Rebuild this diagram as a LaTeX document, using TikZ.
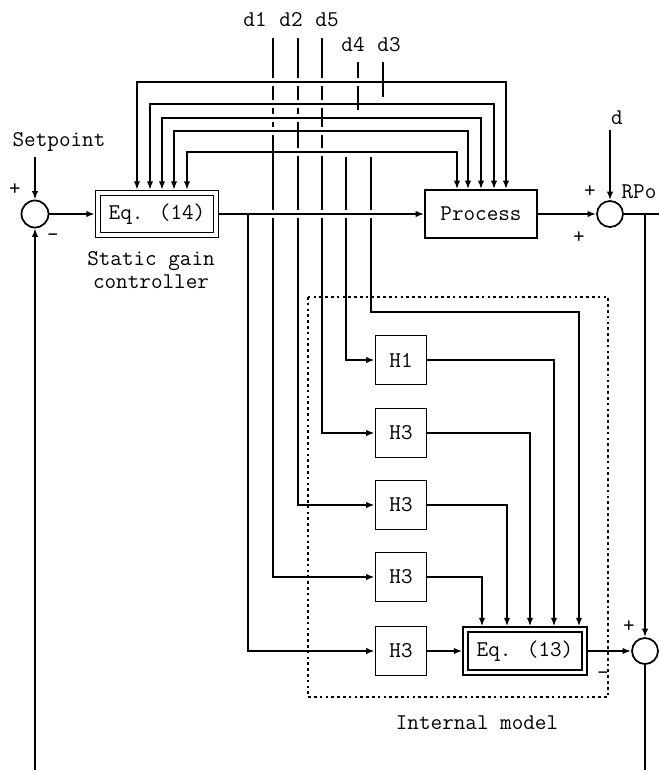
\documentclass[tikz,border=0pt]{standalone}
\usepackage{fontspec}
\usetikzlibrary{arrows.meta}

\begin{document}
\begin{tikzpicture}[x=0.2mm, y=-0.2mm, >={Latex[length=4.8pt,width=3.6pt]},
	line width=1pt, font=\ttfamily\fontsize{12.8}{12.6}\selectfont,
	block/.style={draw, minimum width=10.2mm, minimum height=9.8mm, inner sep=0pt},
	eqbox/.style={draw, double, double distance=2pt, line width=0.8pt, minimum width=23.6mm, minimum height=8.4mm, inner sep=0pt, outer sep=1.8pt},
	summer/.style={draw, circle, minimum size=5.4mm, inner sep=0pt},
	hop/.style={preaction={draw=white, line width=4.5pt, -}}]
	\useasboundingbox (0,0) rectangle (659,770);
	% internal model frame
	\draw[line width=0.7pt, dash pattern=on 1.5pt off 1.8pt] (308,297) rectangle (608,697);
	\node at (477,723) {Internal model};
	% blocks
	\node[summer] (s1) at (35,214) {};
	\node[eqbox] (ctrl) at (157,214) {Eq. (14)};
	\node[align=center] (sgc) at (151,270) {Static gain\\controller};
	\node[draw, minimum width=22.4mm, minimum height=9.6mm] (proc) at (481,214) {Process};
	\node[summer, minimum size=5.2mm] (s2) at (610,214) {};
	\node[block] (h1) at (401,360) {H1};
	\node[block] (h3a) at (401,433) {H3};
	\node[block] (h3b) at (401,505) {H3};
	\node[block] (h3c) at (401,577) {H3};
	\node[block] (h3d) at (401,651) {H3};
	\node[eqbox, minimum width=23.8mm, minimum height=8.6mm] (model) at (525,651) {Eq. (13)};
	\node[summer, minimum size=5.2mm] (s3) at (645,651) {};
	% disturbances
	\coordinate (d1) at (273,38);
	\coordinate (d2) at (298,38);
	\coordinate (d5) at (322,38);
	\coordinate (d4) at (358,62);
	\coordinate (d3) at (383,62);
	\node (ld1) at (255,20) {d1};
	\node (ld2) at (291,20) {d2};
	\node (ld5) at (327,20) {d5};
	\node (ld4) at (353,45) {d4};
	\node (ld3) at (389,45) {d3};
	\coordinate (d4b) at (346,157);
	\coordinate (d3b) at (371,157);
	\coordinate (c5) at (579,312);
	\draw[->] (d1) |- (h3c);
	\draw[->] (d2) |- (h3b);
	\draw[->] (d5) |- (h3a);
	\draw (d4) -- ++(0,48);
	\draw (d3) -- ++(0,35);
	\draw[->] (d4b) |- (h1);
	\draw[->] (d3b) |- (c5) -- (c5 |- model.north);
	% feedforward buses
	\coordinate (j3) at (383,82);
	\coordinate (j4) at (358,104);
	\coordinate (j5) at (322,118);
	\coordinate (j2) at (298,131);
	\coordinate (j1) at (273,152);
	\draw[<->, hop] ([xshift=-4mm]ctrl.north) |- (j3) -| ([xshift=5mm]proc.north);
	\draw[<->, hop] ([xshift=-1.4mm]ctrl.north) |- (j4) -| ([xshift=2.6mm]proc.north);
	\draw[<->, hop] ([xshift=1mm]ctrl.north) |- (j5) -| (proc.north);
	\draw[<->, hop] ([xshift=3.4mm]ctrl.north) |- (j2) -| ([xshift=-2.6mm]proc.north);
	\draw[<->, hop] ([xshift=6mm]ctrl.north) |- (j1) -| ([xshift=-4.8mm]proc.north);
	\draw[->, hop] (ctrl) -- (proc);
	\foreach \j in {j1,j2,j3,j4,j5}
		\draw (\j) ++(0,-6) -- ++(0,12);
	% into internal model
	\coordinate (j0) at (248,214);
	\draw[->] (j0) |- (h3d);
	\draw[->] (h3d) -- (model);
	\draw[->] (h3c) -| ([xshift=-8.6mm]model.north);
	\draw[->] (h3b) -| ([xshift=-3.6mm]model.north);
	\draw[->] (h3a) -| ([xshift=1mm]model.north);
	\draw[->] (h1) -| ([xshift=5.8mm]model.north);
	% loop
	\coordinate (spin) at (35,157);
	\node (sp) at (59,142) {Setpoint};
	\draw[->] (spin) -- (s1);
	\coordinate (fb) at (35,770);
	\draw[->] (fb) -- (s1);
	\draw[->] (s1) -- (ctrl);
	\draw[->] (proc) -- (s2);
	\coordinate (din) at (610,130);
	\node (ld) at (617,118) {d};
	\draw[->] (din) -- (s2);
	\coordinate (out) at (659,214);
	\draw (s2) -- (out);
	\draw[->] (s2.east -| s3) -- (s3);
	\draw[->] (model) -- (s3);
	\coordinate (end) at (645,770);
	\draw (s3) -- (end);
	% signs
	\node at (15,190) {+};
	\node at (53,238) {-};
	\node at (590,192) {+};
	\node at (639,192) {RPo};
	\node at (579,238) {+};
	\node at (629,627) {+};
	\node at (603,676) {-};
\end{tikzpicture}
\end{document}
